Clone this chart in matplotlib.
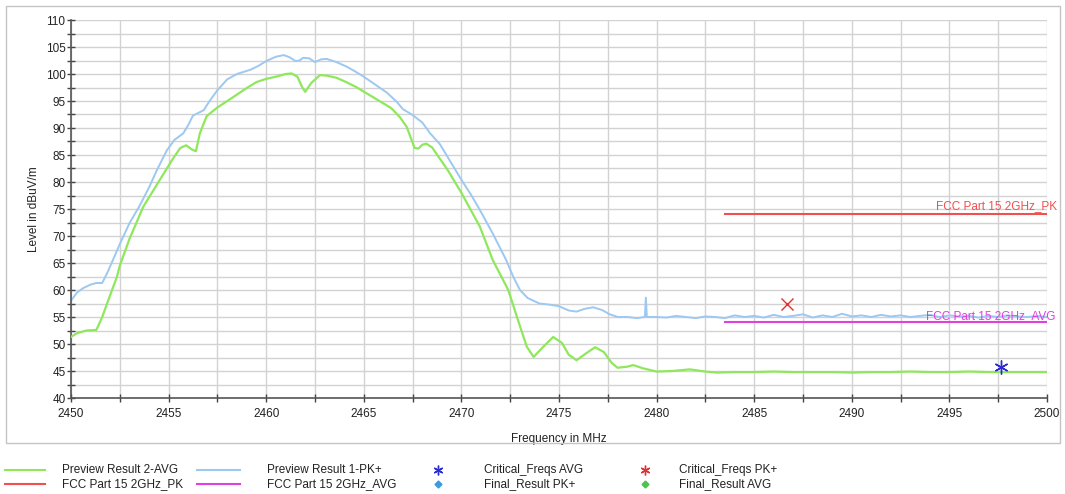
import matplotlib
matplotlib.use("Agg")
import matplotlib.pyplot as plt
from matplotlib.lines import Line2D
from matplotlib.patches import Rectangle
from matplotlib.ticker import MultipleLocator

plt.rcParams['font.family'] = ['Liberation Sans', 'DejaVu Sans']

# ---------------- data ----------------
pk_freq = [2450.0, 2450.3, 2450.6, 2451.0, 2451.3, 2451.6, 2451.9, 2452.2, 2452.5, 2453.0,
           2453.5, 2454.0, 2454.4, 2454.9, 2455.3, 2455.75, 2456.0, 2456.25, 2456.8, 2457.1,
           2457.5, 2458.0, 2458.5, 2459.2, 2459.6, 2460.0, 2460.5, 2460.9, 2461.2, 2461.5,
           2461.7, 2461.9, 2462.2, 2462.5, 2462.8, 2463.1, 2463.6, 2464.1, 2464.5, 2465.0,
           2465.6, 2466.2, 2466.7, 2467.0, 2467.5, 2468.0, 2468.4, 2468.9, 2469.3, 2470.0,
           2470.5, 2470.95, 2471.6, 2472.3, 2472.65, 2473.0, 2473.4, 2473.7, 2474.0, 2474.5,
           2475.0, 2475.5, 2475.9, 2476.3, 2476.75, 2477.2, 2477.6, 2478.0, 2478.5, 2479.0,
           2479.4, 2479.45, 2479.5, 2480.0, 2480.5, 2481.0, 2481.5, 2482.0, 2482.5, 2483.0,
           2483.5, 2484.0, 2484.5, 2485.0, 2485.5, 2486.0, 2486.5, 2487.0, 2487.5, 2488.0,
           2488.5, 2489.0, 2489.5, 2490.0, 2490.5, 2491.0, 2491.5, 2492.0, 2492.5, 2493.0,
           2493.5, 2494.0, 2494.5, 2495.0, 2495.5, 2496.0, 2496.5, 2497.0, 2497.5, 2498.0,
           2498.5, 2499.0, 2499.5, 2500.0]
pk_level = [58.0, 59.5, 60.3, 61.0, 61.3, 61.3, 63.5, 66.0, 68.5, 72.4,
            75.5, 79.0, 82.2, 85.8, 87.8, 89.0, 90.5, 92.3, 93.3, 95.0,
            97.0, 99.0, 100.0, 100.8, 101.5, 102.4, 103.2, 103.5, 103.1, 102.4,
            102.5, 103.0, 102.9, 102.2, 102.7, 102.8, 102.2, 101.4, 100.6, 99.5,
            98.0, 96.5, 94.8, 93.5, 92.4, 91.0, 89.0, 87.0, 84.6, 80.4,
            77.6, 74.8, 70.5, 65.5, 62.5, 60.0, 58.5, 58.0, 57.5, 57.3,
            57.0, 56.2, 56.0, 56.5, 56.8, 56.3, 55.5, 55.0, 55.0, 54.8,
            55.0, 58.6, 55.0, 55.0, 54.9, 55.2, 55.0, 54.8, 55.1, 55.0,
            54.8, 55.3, 55.0, 55.2, 54.9, 55.4, 55.0, 55.2, 55.5, 54.9,
            55.3, 55.0, 55.6, 55.1, 55.3, 55.0, 55.4, 55.1, 55.3, 55.0,
            55.2, 55.4, 55.0, 55.3, 55.1, 55.2, 54.9, 55.2, 55.0, 55.3,
            55.1, 55.0, 55.2, 55.0]

avg_freq = [2450.0, 2450.3, 2450.8, 2451.3, 2451.6, 2452.0, 2452.35, 2452.5, 2453.0, 2453.7,
            2454.55, 2455.2, 2455.6, 2455.9, 2456.2, 2456.4, 2456.6, 2456.95, 2457.5, 2458.3,
            2459.0, 2459.5, 2460.0, 2460.5, 2461.0, 2461.3, 2461.6, 2461.85, 2462.0, 2462.3,
            2462.75, 2463.1, 2463.6, 2464.1, 2464.6, 2465.2, 2465.8, 2466.4, 2466.85, 2467.2,
            2467.6, 2467.8, 2468.0, 2468.2, 2468.5, 2469.3, 2470.0, 2470.95, 2471.6, 2472.4,
            2472.6, 2472.9, 2473.35, 2473.7, 2474.2, 2474.7, 2475.15, 2475.5, 2475.9, 2476.4,
            2476.85, 2477.3, 2477.7, 2478.0, 2478.5, 2478.8, 2479.3, 2480.0, 2480.8, 2481.7,
            2482.5, 2483.1, 2484.0, 2485.0, 2486.0, 2487.0, 2488.0, 2489.0, 2490.0, 2491.0,
            2492.0, 2493.0, 2494.0, 2495.0, 2496.0, 2497.0, 2498.0, 2499.0, 2500.0]
avg_level = [51.3, 52.0, 52.5, 52.6, 55.0, 59.0, 62.4, 64.5, 69.5, 75.4,
             80.4, 84.2, 86.3, 86.8, 86.0, 85.7, 89.0, 92.2, 93.8, 95.7,
             97.4, 98.5, 99.1, 99.5, 100.0, 100.1, 99.5, 97.5, 96.7, 98.3,
             99.8, 99.7, 99.3, 98.5, 97.6, 96.3, 95.0, 93.7, 92.0, 90.2,
             86.3, 86.2, 86.9, 87.1, 86.4, 82.2, 78.0, 71.7, 65.6, 60.0,
             57.8, 54.4, 49.5, 47.6, 49.5, 51.3, 50.2, 48.0, 47.0, 48.3,
             49.4, 48.5, 46.5, 45.6, 45.8, 46.1, 45.5, 44.9, 45.0, 45.3,
             44.9, 44.7, 44.8, 44.8, 44.9, 44.8, 44.8, 44.8, 44.7, 44.8,
             44.8, 44.9, 44.8, 44.8, 44.9, 44.8, 44.8, 44.8, 44.8]

limit_freq = [2483.5, 2500.0]
limit_pk = [74.0, 74.0]
limit_avg = [54.0, 54.0]

crit_avg_freq = [2497.65]
crit_avg_level = [45.75]
crit_pk_freq = [2486.7]
crit_pk_level = [57.4]

x_ticks = [2450, 2455, 2460, 2465, 2470, 2475, 2480, 2485, 2490, 2495, 2500]
y_ticks = [40, 45, 50, 55, 60, 65, 70, 75, 80, 85, 90, 95, 100, 105, 110]

# ---------------- styles ----------------
c_avg = '#8fe85c'
c_pk = '#9cc8f2'
c_lim_pk = '#f05050'
c_lim_avg = '#e040e0'
c_crit_avg = '#2a2ad0'
c_crit_pk = '#e03030'
fs = 8.5

W, H = 1065, 494
fig = plt.figure(figsize=(W / 100, H / 100), dpi=100)
fig.patch.set_facecolor('white')

# outer frame
fig.add_artist(Rectangle((6 / W, 1 - 443 / H), (1060 - 6) / W, (443 - 6) / H,
                         transform=fig.transFigure, fill=False, edgecolor='#c4c4c4', lw=1.0))

ax = fig.add_axes([71 / W, 1 - 398 / H, (1047 - 71) / W, (398 - 20) / H])
ax.set_xlim(2450, 2500)
ax.set_ylim(40, 110)

ax.plot(avg_freq, avg_level, color=c_avg, lw=1.6, zorder=3)
ax.plot(pk_freq, pk_level, color=c_pk, lw=1.4, zorder=2)
ax.plot(limit_freq, limit_pk, color=c_lim_pk, lw=1.5, zorder=4)
ax.plot(limit_freq, limit_avg, color=c_lim_avg, lw=1.5, zorder=4)
ax.plot(crit_avg_freq, crit_avg_level, linestyle='none', marker=(6, 2, 0), ms=10,
        mec=c_crit_avg, mew=1.0, zorder=5)
ax.plot(crit_pk_freq, crit_pk_level, linestyle='none', marker='x', ms=8,
        mec=c_crit_pk, mew=1.0, zorder=5)

ax.annotate('FCC Part 15 2GHz_PK', xy=(2500, limit_pk[0]), xytext=(7, 1.5),
            textcoords='offset points', ha='right', va='bottom', color=c_lim_pk,
            fontsize=fs, annotation_clip=False)
ax.annotate('FCC Part 15 2GHz_AVG', xy=(2500, limit_avg[0]), xytext=(6, 0.5),
            textcoords='offset points', ha='right', va='bottom', color=c_lim_avg,
            fontsize=fs, annotation_clip=False, zorder=6)

ax.set_xticks(x_ticks)
ax.set_yticks(y_ticks)
ax.xaxis.set_minor_locator(MultipleLocator(2.5))
ax.yaxis.set_minor_locator(MultipleLocator(2.5))
ax.grid(True, which='both', color='#d2d2d2', lw=1.0, zorder=0)
ax.set_axisbelow(True)
ax.tick_params(which='both', direction='inout', length=6, width=1.0, color='#444444',
               labelsize=fs, labelcolor='#222222')
ax.tick_params(axis='x', pad=4)
ax.tick_params(axis='y', pad=1)
for s in ['top', 'right']:
    ax.spines[s].set_visible(False)
for s in ['left', 'bottom']:
    ax.spines[s].set_color('#555555')
    ax.spines[s].set_linewidth(1.2)

ax.set_xlabel('Frequency in MHz', fontsize=fs, color='#222222', labelpad=9.5)
ax.set_ylabel('Level in dBuV/m', fontsize=fs, color='#222222', labelpad=4)

# ---------------- legend (drawn below the frame) ----------------
def fx(px):
    return px / W

def fy(py):
    return 1 - py / H

rows = [470, 484]
line_entries = [
    (5, 45, 62, rows[0], c_avg, 'Preview Result 2-AVG'),
    (5, 45, 62, rows[1], c_lim_pk, 'FCC Part 15 2GHz_PK'),
    (197, 240, 267, rows[0], c_pk, 'Preview Result 1-PK+'),
    (197, 240, 267, rows[1], c_lim_avg, 'FCC Part 15 2GHz_AVG'),
]
for x0, x1, tx, y, col, lab in line_entries:
    fig.add_artist(Line2D([fx(x0), fx(x1)], [fy(y), fy(y)], transform=fig.transFigure,
                          color=col, lw=1.5))
    fig.text(fx(tx), fy(y), lab, fontsize=fs, va='center', ha='left', color='#222222')

marker_entries = [
    (438, 484, rows[0], (6, 2, 0), c_crit_avg, 7, 'Critical_Freqs AVG'),
    (438, 484, rows[1], 'D', '#3b9ae0', 3.5, 'Final_Result PK+'),
    (645, 679, rows[0], (6, 2, 0), c_crit_pk, 7, 'Critical_Freqs PK+'),
    (645, 679, rows[1], 'D', '#4cc44c', 3.5, 'Final_Result AVG'),
]
for mx, tx, y, mk, col, ms, lab in marker_entries:
    fig.add_artist(Line2D([fx(mx)], [fy(y)], transform=fig.transFigure, linestyle='none',
                          marker=mk, ms=ms, color=col, mec=col, mew=1.0))
    fig.text(fx(tx), fy(y), lab, fontsize=fs, va='center', ha='left', color='#222222')

fig.savefig('out.png', dpi=100)
